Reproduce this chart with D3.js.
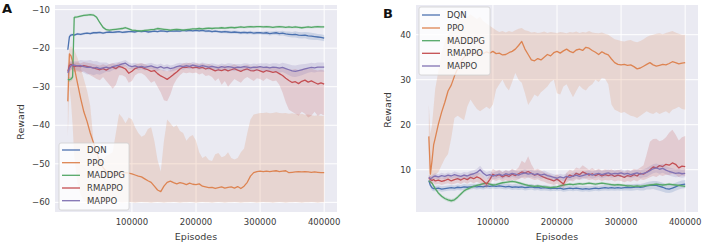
<!DOCTYPE html>
<html>
<head>
<meta charset="utf-8">
<script src="https://cdn.jsdelivr.net/npm/d3@7"></script>
<style>
  body { margin: 0; background: #fff; }
  svg { display: block; font-family: "DejaVu Sans", sans-serif; }
</style>
</head>
<body>
<div id="chart"></div>
<script>
// ---- data ----
const seriesNames = ["DQN", "PPO", "MADDPG", "RMAPPO", "MAPPO"];
const seriesColors = ["#4c72b0", "#dd8452", "#55a868", "#c44e52", "#8172b3"];

const episodes = [
  0, 2500, 5000, 7500, 10000, 15000, 20000, 25000, 30000, 35000,
  40000, 45000, 50000, 55000, 60000, 65000, 70000, 75000, 80000, 85000,
  90000, 95000, 100000, 105000, 110000, 115000, 120000, 125000, 130000, 135000,
  140000, 145000, 150000, 155000, 160000, 165000, 170000, 175000, 180000, 185000,
  190000, 195000, 200000, 205000, 210000, 215000, 220000, 225000, 230000, 235000,
  240000, 245000, 250000, 255000, 260000, 265000, 270000, 275000, 280000, 285000,
  290000, 295000, 300000, 305000, 310000, 315000, 320000, 325000, 330000, 335000,
  340000, 345000, 350000, 355000, 360000, 365000, 370000, 375000, 380000, 385000,
  390000, 395000, 400000
];
const xTicks = [100000, 200000, 300000, 400000];
const yTicksA = [-60, -50, -40, -30, -20, -10];
const yTicksB = [10, 20, 30, 40];

// Panel A
const dqnA = [
  -20.4, -17.0, -16.6, -16.5, -16.6, -16.3, -16.4, -16.2, -16.1, -16.2,
  -16.0, -16.0, -15.9, -16.1, -15.9, -15.8, -15.9, -15.8, -15.7, -15.9,
  -15.8, -15.7, -15.7, -15.8, -15.6, -15.7, -15.6, -15.8, -15.7, -15.6,
  -15.7, -15.5, -15.6, -15.7, -15.5, -15.6, -15.5, -15.6, -15.4, -15.5,
  -15.4, -15.5, -15.4, -15.5, -15.4, -15.6, -15.5, -15.7, -15.6, -15.7,
  -15.8, -15.7, -15.8, -15.9, -15.8, -15.9, -16.0, -15.9, -16.0, -15.9,
  -16.1, -16.0, -16.0, -16.1, -16.0, -16.2, -16.1, -16.0, -16.2, -16.1,
  -16.3, -16.4, -16.5, -16.4, -16.6, -16.7, -16.6, -16.8, -16.9, -17.0,
  -17.1, -17.2, -17.4
];
const dqnASpread = [
  0.6, 0.5, 0.4, 0.3, 0.3, 0.3, 0.3, 0.3, 0.3, 0.3,
  0.3, 0.3, 0.3, 0.3, 0.3, 0.3, 0.3, 0.3, 0.3, 0.3,
  0.3, 0.3, 0.3, 0.3, 0.3, 0.3, 0.3, 0.3, 0.3, 0.3,
  0.3, 0.3, 0.3, 0.3, 0.3, 0.3, 0.3, 0.3, 0.3, 0.3,
  0.3, 0.3, 0.3, 0.3, 0.3, 0.35, 0.35, 0.35, 0.35, 0.35,
  0.35, 0.4, 0.4, 0.4, 0.4, 0.4, 0.4, 0.4, 0.4, 0.4,
  0.4, 0.4, 0.4, 0.4, 0.5, 0.5, 0.5, 0.5, 0.6, 0.6,
  0.6, 0.7, 0.7, 0.8, 0.8, 0.8, 0.8, 0.9, 0.9, 0.9,
  0.8, 0.8, 0.8
];
const ppoA = [
  -33.8, -21.5, -22.0, -23.5, -25.0, -29.0, -33.0, -36.5, -39.0, -42.0,
  -44.5, -47.0, -49.5, -51.0, -52.0, -52.5, -52.3, -52.6, -52.2, -52.5,
  -52.3, -52.4, -52.6, -52.9, -53.2, -53.4, -53.9, -54.4, -54.8, -55.8,
  -56.8, -57.2, -55.8, -54.8, -54.5, -54.9, -55.2, -54.9, -55.1, -55.4,
  -55.0, -55.3, -55.4, -55.2, -55.8, -56.0, -56.2, -56.1, -56.4, -56.2,
  -56.0, -56.3, -56.1, -56.0, -56.3, -55.9, -56.4, -55.8, -54.8, -53.2,
  -52.3, -52.0, -51.9, -52.0, -51.9, -52.0, -51.9, -51.8, -52.0, -51.9,
  -51.8, -52.3, -52.2, -52.1, -52.0, -52.1, -52.0, -52.1, -52.2, -52.1,
  -52.2, -52.3, -52.3
];
const ppoALow = [
  -43, -30, -34, -40, -48, -55, -58, -59.5, -60, -60,
  -60.1, -60, -59.9, -60, -60.1, -60, -60, -59.9, -60, -60.1,
  -60, -59.9, -60, -60.1, -60, -59.9, -60, -60, -60.1, -60,
  -59.9, -60, -60.1, -60, -60, -59.9, -60, -60.1, -60, -60,
  -59.9, -60, -60.1, -60, -59.9, -60, -60, -60.1, -60, -59.9,
  -60, -60.1, -60, -60, -59.9, -60, -60.1, -60, -60, -59.9,
  -60, -60.1, -60, -59.9, -60, -60, -60.1, -60, -59.9, -60,
  -60.1, -60, -60, -59.9, -60, -60.1, -60, -60, -59.9, -60,
  -60.1, -60, -60
];
const ppoAHigh = [
  -24, -20, -19.5, -20, -20.5, -22.5, -25, -28, -31, -35,
  -44, -47, -48, -49, -48, -47.5, -47, -42, -37, -38,
  -39.5, -38, -38.5, -40.5, -42, -43, -42.5, -41, -40.5, -44,
  -49, -52, -44, -38.5, -39.5, -40.5, -40, -41.5, -42, -44,
  -43, -42.5, -44, -47, -48.5, -48, -49, -49.3, -47.5, -47.2,
  -48.3, -48, -47, -48.5, -48.9, -48.5, -47, -46, -42, -38.5,
  -37.2, -37, -36.8, -36.8, -36.7, -36.9, -36.8, -36.6, -36.8, -36.9,
  -36.8, -37.0, -36.9, -37.1, -37.2, -37.0, -37.3, -37.2, -37.4, -37.5,
  -37.4, -37.5, -37.6
];
const maddpgA = [
  -28.1, -28.2, -28.0, -27.5, -12.0, -11.9, -11.7, -11.5, -11.4, -11.3,
  -11.4, -12.0, -13.4, -14.6, -15.2, -15.3, -15.2, -15.1, -15.0, -14.9,
  -14.7, -15.0, -15.3, -15.4, -15.5, -15.5, -15.4, -15.3, -15.2, -15.1,
  -14.9, -15.0, -15.1, -15.2, -15.3, -15.2, -15.1, -15.2, -15.3, -15.2,
  -15.1, -15.0, -15.0, -14.9, -15.0, -14.9, -14.8, -14.9, -14.8, -14.8,
  -14.7, -14.8, -14.7, -14.6, -14.7, -14.6, -14.5, -14.6, -14.5, -14.4,
  -14.5, -14.4, -14.4, -14.5, -14.4, -14.5, -14.6, -14.5, -14.4, -14.5,
  -14.6, -14.5, -14.6, -14.5, -14.6, -14.7, -14.6, -14.5, -14.6, -14.5,
  -14.4, -14.5, -14.5
];
const maddpgASpread = [
  0.6, 0.6, 0.6, 0.6, 0.4, 0.3, 0.3, 0.3, 0.3, 0.3,
  0.3, 0.3, 0.3, 0.3, 0.3, 0.3, 0.3, 0.3, 0.3, 0.3,
  0.3, 0.3, 0.3, 0.3, 0.3, 0.3, 0.3, 0.3, 0.3, 0.3,
  0.3, 0.3, 0.3, 0.3, 0.3, 0.3, 0.3, 0.3, 0.3, 0.3,
  0.3, 0.3, 0.3, 0.3, 0.3, 0.3, 0.3, 0.3, 0.3, 0.3,
  0.3, 0.3, 0.3, 0.3, 0.3, 0.3, 0.3, 0.3, 0.3, 0.3,
  0.3, 0.3, 0.3, 0.3, 0.3, 0.3, 0.3, 0.3, 0.3, 0.3,
  0.3, 0.3, 0.3, 0.3, 0.3, 0.3, 0.3, 0.3, 0.3, 0.3,
  0.3, 0.3, 0.3
];
const rmappoA = [
  -26.0, -24.5, -24.2, -24.5, -24.8, -24.6, -24.8, -24.5, -24.7, -24.9,
  -25.1, -25.4, -25.6, -25.3, -25.7, -25.2, -24.9, -25.3, -24.7, -25.0,
  -25.4, -26.5, -26.0, -25.3, -25.0, -24.9, -25.3, -25.6, -26.0, -25.8,
  -26.6, -27.2, -27.6, -28.1, -27.5, -26.8, -26.2, -25.4, -24.9, -25.0,
  -24.8, -25.1, -24.9, -25.2, -25.0, -25.4, -25.1, -25.5, -25.9, -25.6,
  -25.8, -25.5, -25.9, -25.6, -25.3, -25.7, -26.0, -25.6, -25.4, -25.8,
  -25.9, -25.6, -25.9, -26.2, -25.8, -26.0, -26.3, -26.1, -26.6, -27.1,
  -27.8, -28.4, -28.9, -28.7, -29.2, -28.6, -28.3, -28.8, -28.5, -28.9,
  -29.3, -29.0, -29.3
];
const rmappoALow = [
  -27.5, -26, -25.5, -25.8, -26.2, -26, -26.3, -26, -26.5, -27,
  -27.5, -28, -28.3, -27.5, -28.5, -29.5, -30.5, -29.5, -27, -27,
  -27.5, -29, -28.5, -27, -26.5, -26.5, -27, -28, -29, -28.5,
  -30, -31.5, -33.5, -33.8, -32, -29.5, -28, -27, -26.3, -26.5,
  -26.3, -26.5, -26.3, -26.8, -26.5, -27.2, -27, -27.5, -28.5, -27.8,
  -29.5, -28.5, -30, -29, -28, -28.5, -29, -28, -27.5, -28,
  -28.5, -27.8, -28, -28.5, -27.8, -28.2, -28.6, -28.4, -29.5, -31.5,
  -34, -36, -36.5, -37, -37.5, -36.5, -37, -38, -37.5, -36.5,
  -37.5, -37, -37.5
];
const rmappoAHigh = [
  -24.5, -23.5, -23.3, -23.5, -23.8, -23.7, -23.9, -23.6, -23.8, -23.9,
  -24.1, -24.3, -24.5, -24.2, -24.5, -24.1, -23.9, -24.2, -23.7, -24.0,
  -24.3, -25.2, -24.8, -24.3, -24.0, -23.9, -24.2, -24.5, -24.8, -24.6,
  -25.2, -25.6, -25.8, -26.0, -25.7, -25.2, -24.9, -24.4, -23.9, -24.0,
  -23.8, -24.1, -23.9, -24.2, -24.0, -24.3, -24.1, -24.4, -24.7, -24.5,
  -24.6, -24.4, -24.7, -24.5, -24.2, -24.6, -24.8, -24.5, -24.3, -24.7,
  -24.8, -24.5, -24.8, -25.0, -24.7, -24.9, -25.1, -24.9, -25.0, -25.1,
  -25.3, -25.5, -25.6, -25.4, -25.7, -25.4, -25.2, -25.5, -25.3, -25.6,
  -25.8, -25.6, -25.8
];
const mappoA = [
  -26.4, -25.2, -24.6, -24.3, -24.4, -24.6, -24.5, -24.8, -25.0, -24.9,
  -25.2, -25.0, -25.3, -25.1, -24.9, -25.2, -24.8, -24.6, -24.4, -24.1,
  -23.9, -24.5, -24.8, -24.6, -24.9, -24.7, -25.0, -24.8, -24.6, -24.9,
  -25.1, -24.8, -25.2, -25.0, -25.3, -25.1, -24.8, -24.6, -24.8, -24.5,
  -24.7, -24.4, -24.6, -24.8, -24.5, -24.7, -24.9, -24.7, -24.9, -25.1,
  -24.8, -25.0, -24.8, -24.9, -25.1, -24.9, -25.0, -24.8, -24.9, -25.1,
  -24.9, -25.0, -24.8, -25.0, -24.9, -25.1, -24.9, -25.0, -25.2, -25.0,
  -25.3, -25.6, -25.9, -26.0, -25.8, -25.6, -25.4, -25.2, -25.0, -25.1,
  -24.9, -24.9, -24.9
];
const mappoASpread = [
  1.5, 1.2, 1.0, 1.0, 1.0, 1.2, 1.4, 1.6, 1.8, 1.8,
  1.8, 1.7, 1.6, 1.4, 1.2, 1.0, 0.9, 0.9, 0.8, 0.8,
  0.8, 0.8, 0.8, 0.8, 0.8, 0.8, 0.8, 0.8, 0.8, 0.8,
  0.8, 0.8, 0.8, 0.8, 0.8, 0.8, 0.8, 0.8, 0.8, 0.8,
  0.8, 0.8, 0.8, 0.8, 0.8, 0.8, 0.8, 0.8, 0.8, 0.8,
  0.8, 0.8, 0.9, 0.9, 0.9, 0.8, 0.8, 0.9, 0.9, 0.9,
  0.9, 0.9, 0.9, 1.0, 1.0, 1.0, 1.0, 1.1, 1.1, 1.2,
  1.3, 1.4, 1.5, 1.5, 1.5, 1.4, 1.3, 1.2, 1.2, 1.2,
  1.2, 1.2, 1.2
];

// Panel B
const dqnB = [
  7.6, 6.5, 6.0, 5.8, 5.8, 5.9, 5.7, 5.8, 5.9, 6.0,
  5.9, 6.1, 6.0, 6.2, 6.1, 6.2, 6.3, 6.2, 6.3, 6.2,
  6.4, 6.3, 6.4, 6.3, 6.4, 6.3, 6.2, 6.3, 6.1, 6.2,
  6.1, 6.2, 6.0, 6.1, 6.2, 6.0, 6.1, 5.9, 6.0, 5.9,
  5.8, 5.9, 5.8, 5.9, 5.7, 5.8, 5.9, 5.8, 5.9, 5.8,
  5.7, 5.8, 5.7, 5.8, 5.9, 5.8, 5.9, 6.0, 5.9, 6.0,
  5.9, 6.0, 5.9, 6.0, 6.1, 6.0, 6.1, 6.2, 6.1, 6.2,
  6.4, 6.5, 6.6, 6.5, 6.3, 6.1, 5.8, 5.7, 5.9, 6.2,
  6.5, 6.7, 6.8
];
const dqnBSpread = [
  0.3, 0.5, 0.6, 0.6, 0.6, 0.6, 0.6, 0.6, 0.6, 0.6,
  0.6, 0.6, 0.6, 0.6, 0.6, 0.6, 0.6, 0.6, 0.6, 0.6,
  0.6, 0.6, 0.6, 0.6, 0.6, 0.6, 0.6, 0.6, 0.6, 0.6,
  0.6, 0.6, 0.6, 0.6, 0.6, 0.6, 0.6, 0.6, 0.6, 0.6,
  0.6, 0.6, 0.6, 0.6, 0.6, 0.6, 0.6, 0.6, 0.6, 0.6,
  0.6, 0.6, 0.6, 0.6, 0.6, 0.6, 0.6, 0.6, 0.6, 0.6,
  0.6, 0.6, 0.6, 0.6, 0.7, 0.7, 0.7, 0.7, 0.7, 0.8,
  0.8, 0.9, 0.9, 1.0, 1.0, 1.0, 0.9, 0.9, 0.9, 0.9,
  0.9, 0.9, 0.9
];
const ppoB = [
  17.4, 9.0, 12.0, 15.5, 17.0, 20.2, 22.8, 25.0, 27.5, 28.8,
  30.8, 32.5, 34.0, 35.0, 35.5, 35.8, 36.0, 35.6, 36.1, 35.8,
  36.2, 35.9, 36.3, 35.8, 35.9, 35.5, 35.6, 36.0, 36.3, 36.8,
  37.6, 38.5, 36.8, 35.6, 34.4, 34.2, 34.7, 34.4, 35.0, 35.6,
  35.3, 36.0, 36.3, 35.9, 36.4, 36.8, 36.3, 36.0, 36.6, 36.8,
  36.5, 37.2, 37.0, 36.5, 36.1, 35.6, 36.2, 35.8, 35.5, 34.6,
  33.8, 33.4, 33.3, 33.4, 33.2, 33.3, 32.9, 32.4, 32.6, 33.0,
  33.4, 33.8, 33.3, 33.0, 33.2, 33.4, 33.3, 33.6, 34.0, 33.8,
  33.5, 33.7, 33.8
];
const ppoBLow = [
  10, 7, 7.5, 8.5, 8.8, 9.5, 11, 12.5, 13.5, 17,
  21.5, 22, 21.5, 21, 24, 25.6, 24.5, 23.5, 23, 23.5,
  24, 23.5, 24.5, 27.8, 29, 30, 28.5, 27.6, 29.5, 31.5,
  30, 29.3, 27, 24.4, 25.5, 26.7, 26.2, 27.2, 27.8, 28.5,
  29.5, 30, 27, 26.7, 28.5, 29, 27.5, 26.1, 27.5, 28.7,
  28, 27.6, 28.5, 29, 30, 29.5, 30.4, 30.2, 29, 24.5,
  23.3, 23, 22.6, 22.8, 22.4, 22, 21.8, 21.5, 22, 22.5,
  23, 22.6, 22.4, 22.8, 22.4, 22.7, 23, 22.5, 23.3, 23.6,
  24, 23.5, 23.3
];
const ppoBHigh = [
  24.5, 18, 20, 24, 28, 32, 36, 38.5, 40, 41,
  42, 43, 43.5, 43.5, 44, 44.5, 44, 43.5, 44, 43,
  42.5, 42, 41.5, 41, 40.6, 40.8, 40.5, 40.8, 40.6, 41,
  41.3, 41.5, 41, 40.8, 40.5, 40.6, 40.4, 40.5, 40.7, 40.4,
  40.6, 40.5, 40.4, 40.6, 40.5, 40.3, 40.6, 40.5, 40.7, 40.4,
  40.6, 40.5, 40.8, 40.5, 40.4, 40.3, 40.5, 40.2, 40, 39.5,
  39, 38.8, 38.6, 38.5, 38.7, 38.8, 38.5, 38.3, 38.6, 39,
  39.5, 39.8, 40, 40.2, 40.3, 40.1, 40.4, 40.6, 40.8, 40.5,
  40.2, 40, 40
];
const maddpgB = [
  7.5, 7.3, 7.0, 6.4, 5.8, 4.8, 4.1, 3.6, 3.3, 3.1,
  3.3, 3.9, 4.6, 5.3, 5.7, 6.0, 6.3, 6.5, 6.7, 6.9,
  7.0, 6.8, 6.6, 6.7, 6.9, 7.1, 7.2, 7.3, 7.4, 7.3,
  7.1, 6.9, 6.7, 6.5, 6.4, 6.3, 6.4, 6.3, 6.2, 6.1,
  6.0, 6.1, 6.2, 6.4, 6.6, 6.7, 6.8, 6.7, 6.8, 6.9,
  6.8, 6.9, 7.0, 6.9, 6.8, 6.9, 7.0, 6.9, 6.8, 6.7,
  6.6, 6.7, 6.6, 6.5, 6.4, 6.4, 6.3, 6.4, 6.3, 6.4,
  6.5, 6.6, 6.7, 6.8, 6.7, 6.6, 6.7, 6.8, 6.7, 6.6,
  6.5, 6.4, 6.3
];
const maddpgBSpread = [
  0.3, 0.3, 0.3, 0.3, 0.3, 0.4, 0.4, 0.4, 0.4, 0.4,
  0.4, 0.4, 0.4, 0.4, 0.4, 0.3, 0.3, 0.3, 0.3, 0.3,
  0.3, 0.3, 0.3, 0.3, 0.3, 0.3, 0.3, 0.3, 0.3, 0.3,
  0.3, 0.3, 0.3, 0.3, 0.3, 0.3, 0.3, 0.3, 0.3, 0.3,
  0.3, 0.3, 0.3, 0.3, 0.3, 0.3, 0.3, 0.3, 0.3, 0.3,
  0.3, 0.3, 0.3, 0.3, 0.3, 0.3, 0.3, 0.3, 0.3, 0.3,
  0.3, 0.3, 0.3, 0.3, 0.3, 0.3, 0.3, 0.3, 0.3, 0.3,
  0.3, 0.3, 0.3, 0.3, 0.3, 0.3, 0.3, 0.3, 0.3, 0.3,
  0.3, 0.3, 0.3
];
const rmappoB = [
  8.2, 7.8, 7.6, 7.8, 7.5, 7.7, 7.4, 7.6, 7.9, 7.5,
  7.8, 8.0, 7.7, 8.1, 7.8, 8.3, 8.0, 8.4, 8.1, 7.5,
  6.8, 7.8, 9.0, 8.6, 8.9, 8.4, 8.8, 8.5, 9.0, 8.7,
  9.1, 9.5, 9.3, 9.6, 9.2, 8.8, 9.0, 8.6, 8.3, 8.0,
  7.8, 7.5, 7.9, 7.4, 6.8, 8.2, 8.8, 8.5, 9.2, 8.9,
  9.5, 9.2, 8.8, 9.1, 8.7, 9.0, 8.6, 8.9, 8.7, 8.9,
  8.5, 8.8, 8.6, 8.3, 8.7, 8.5, 8.9, 8.6, 9.2, 9.0,
  9.5, 10.0, 10.6, 10.4, 10.9, 10.7, 11.2, 11.0, 11.5, 11.2,
  10.4, 10.8, 10.7
];
const rmappoBLow = [
  7.6, 7.0, 6.8, 7.0, 6.7, 6.9, 6.6, 6.8, 7.0, 6.7,
  6.9, 7.1, 6.8, 7.2, 6.9, 7.3, 7.0, 7.3, 7.0, 6.5,
  5.9, 6.8, 7.8, 7.5, 7.8, 7.4, 7.7, 7.4, 7.8, 7.6,
  7.9, 8.2, 8.0, 8.3, 8.0, 7.7, 7.9, 7.5, 7.3, 7.0,
  6.8, 6.6, 6.9, 6.4, 5.9, 7.1, 7.6, 7.4, 7.9, 7.7,
  8.2, 8.0, 7.7, 7.9, 7.6, 7.8, 7.5, 7.7, 7.6, 7.7,
  7.4, 7.6, 7.5, 7.2, 7.5, 7.3, 7.7, 7.4, 7.9, 7.7,
  8.0, 8.3, 8.6, 8.4, 8.8, 8.6, 8.9, 8.8, 9.1, 8.9,
  8.4, 8.7, 8.6
];
const rmappoBHigh = [
  8.8, 8.6, 8.4, 8.6, 8.3, 8.5, 8.2, 8.4, 8.8, 8.3,
  8.7, 8.9, 8.6, 9.0, 8.7, 9.3, 9.0, 9.5, 9.2, 8.5,
  7.8, 8.8, 10.2, 9.7, 10.0, 9.5, 9.9, 9.6, 10.2, 9.8,
  10.5, 12.0, 11.5, 13.0, 11.2, 10.0, 10.2, 9.8, 9.4, 9.1,
  8.9, 8.5, 9.0, 8.5, 7.8, 9.4, 10.0, 9.7, 10.5, 10.2,
  11.0, 10.5, 10.0, 10.4, 9.9, 10.2, 9.8, 10.1, 9.9, 10.1,
  9.7, 10.0, 9.8, 9.5, 9.9, 9.7, 10.2, 10.0, 10.5, 11.0,
  13.5, 16.2, 16.8, 16.9, 16.3, 16.6, 17.2, 18.2, 18.9, 17.8,
  16.5, 17.2, 17.5
];
const mappoB = [
  8.3, 8.0, 8.2, 8.5, 8.6, 8.4, 8.7, 8.5, 8.8, 8.6,
  8.9, 8.7, 8.5, 8.8, 8.6, 8.9, 9.1, 9.4, 10.0, 9.2,
  8.7, 8.9, 8.6, 8.8, 9.0, 8.7, 9.1, 8.9, 9.2, 9.0,
  8.8, 9.1, 9.3, 9.0, 9.2, 8.9, 9.1, 8.8, 9.0, 8.7,
  8.5, 8.3, 8.1, 8.4, 8.2, 8.5, 8.3, 8.6, 8.8, 8.5,
  8.7, 8.9, 9.1, 8.8, 9.0, 9.2, 8.9, 9.1, 9.3, 9.0,
  9.2, 9.1, 9.3, 9.0, 9.2, 8.9, 9.1, 9.3, 9.0, 9.2,
  9.4, 9.8, 10.2, 10.4, 10.1, 10.3, 9.9, 9.6, 9.4, 9.2,
  9.3, 9.1, 9.2
];
const mappoBSpread = [
  0.4, 0.6, 0.6, 0.6, 0.6, 0.6, 0.6, 0.6, 0.6, 0.6,
  0.7, 0.7, 0.7, 0.7, 0.8, 0.8, 0.8, 0.8, 0.9, 0.8,
  0.8, 0.8, 0.8, 0.8, 0.8, 0.8, 0.8, 0.8, 0.8, 0.8,
  0.8, 0.8, 0.8, 0.8, 0.8, 0.8, 0.8, 0.8, 0.8, 0.8,
  0.7, 0.7, 0.7, 0.7, 0.7, 0.7, 0.7, 0.7, 0.7, 0.7,
  0.8, 0.8, 0.8, 0.8, 0.8, 0.8, 0.8, 0.8, 0.8, 0.8,
  0.8, 0.8, 0.8, 0.8, 0.8, 0.8, 0.8, 0.8, 0.9, 0.9,
  1.0, 1.0, 1.0, 1.0, 1.0, 1.0, 0.9, 0.9, 0.9, 0.9,
  0.9, 0.9, 0.9
];

// ---- build series ----
function sym(mean, spread) {
  return { mean, low: mean.map((m, i) => m - spread[i]), high: mean.map((m, i) => m + spread[i]) };
}

const panels = [
  {
    letter: "A", left: 55, right: 337, yDomain: [-62.5, -8.8], yTicks: yTicksA,
    letterPos: [2, 13], ylabelPos: [24, 122],
    legend: { x: 59, y: 143, w: 70, h: 67, line: [62, 80], text: 87, rows: [150, 162.7, 175.3, 188, 200.7] },
    series: [
      sym(dqnA, dqnASpread),
      { mean: ppoA, low: ppoALow, high: ppoAHigh },
      sym(maddpgA, maddpgASpread),
      { mean: rmappoA, low: rmappoALow, high: rmappoAHigh },
      sym(mappoA, mappoASpread)
    ]
  },
  {
    letter: "B", left: 416, right: 698, yDomain: [0.6, 46.6], yTicks: yTicksB,
    letterPos: [383, 18], ylabelPos: [391, 110],
    legend: { x: 419, y: 7, w: 71, h: 68, line: [422, 440], text: 447, rows: [15, 28, 40.7, 53.3, 66] },
    series: [
      sym(dqnB, dqnBSpread),
      { mean: ppoB, low: ppoBLow, high: ppoBHigh },
      sym(maddpgB, maddpgBSpread),
      { mean: rmappoB, low: rmappoBLow, high: rmappoBHigh },
      sym(mappoB, mappoBSpread)
    ]
  }
];

panels.forEach(p => p.series.forEach((s, i) => {
  [s.mean, s.low, s.high].forEach(a => {
    if (a.length !== episodes.length) throw new Error(p.letter + " " + seriesNames[i] + " length " + a.length);
  });
}));

// ---- draw ----
const W = 708, H = 245;
const plotTop = 5, plotBottom = 212;
const textColor = "#3a3a3a";
const svg = d3.select("#chart").append("svg").attr("width", W).attr("height", H);

panels.forEach(p => {
  const x = d3.scaleLinear().domain([-20000, 420000]).range([p.left, p.right]);
  const y = d3.scaleLinear().domain(p.yDomain).range([plotBottom, plotTop]);
  const g = svg.append("g");

  g.append("rect")
    .attr("x", p.left).attr("y", plotTop)
    .attr("width", p.right - p.left).attr("height", plotBottom - plotTop)
    .attr("fill", "#eaeaf2");

  // grid
  g.selectAll("line.gx").data(xTicks).enter().append("line")
    .attr("x1", d => x(d)).attr("x2", d => x(d))
    .attr("y1", plotTop).attr("y2", plotBottom)
    .attr("stroke", "#fff").attr("stroke-width", 1);
  g.selectAll("line.gy").data(p.yTicks).enter().append("line")
    .attr("x1", p.left).attr("x2", p.right)
    .attr("y1", d => y(d)).attr("y2", d => y(d))
    .attr("stroke", "#fff").attr("stroke-width", 1);

  // series
  p.series.forEach((s, i) => {
    const pts = episodes.map((e, j) => ({ e, m: s.mean[j], lo: s.low[j], hi: s.high[j] }));
    g.append("path").datum(pts)
      .attr("fill", seriesColors[i]).attr("fill-opacity", 0.2)
      .attr("d", d3.area().x(d => x(d.e)).y0(d => y(d.lo)).y1(d => y(d.hi)));
    g.append("path").datum(pts)
      .attr("fill", "none").attr("stroke", seriesColors[i]).attr("stroke-width", 1.3)
      .attr("stroke-linejoin", "round")
      .attr("d", d3.line().x(d => x(d.e)).y(d => y(d.m)));
  });

  // tick labels
  g.selectAll("text.xt").data(xTicks).enter().append("text")
    .attr("x", d => x(d)).attr("y", 225)
    .attr("text-anchor", "middle").attr("font-size", "8.5px").attr("fill", textColor)
    .text(d => d);
  g.selectAll("text.yt").data(p.yTicks).enter().append("text")
    .attr("x", p.left - 5).attr("y", d => y(d))
    .attr("text-anchor", "end").attr("dominant-baseline", "central")
    .attr("font-size", "8.5px").attr("fill", textColor)
    .text(d => d3.format("d")(d));

  // axis titles
  g.append("text")
    .attr("x", (p.left + p.right) / 2).attr("y", 240)
    .attr("text-anchor", "middle").attr("font-size", "9.5px").attr("fill", textColor)
    .text("Episodes");
  g.append("text")
    .attr("transform", `translate(${p.ylabelPos[0]},${p.ylabelPos[1]}) rotate(-90)`)
    .attr("text-anchor", "middle").attr("font-size", "9.5px").attr("fill", textColor)
    .text("Reward");

  // panel letter
  g.append("text")
    .attr("x", p.letterPos[0]).attr("y", p.letterPos[1])
    .attr("font-size", "13px").attr("font-weight", "bold").attr("fill", "#111")
    .text(p.letter);

  // legend
  const L = p.legend;
  g.append("rect")
    .attr("x", L.x).attr("y", L.y).attr("width", L.w).attr("height", L.h)
    .attr("rx", 2).attr("fill", "#fff").attr("fill-opacity", 0.8)
    .attr("stroke", "#d0d0d0").attr("stroke-width", 0.8);
  seriesNames.forEach((name, i) => {
    g.append("line")
      .attr("x1", L.line[0]).attr("x2", L.line[1])
      .attr("y1", L.rows[i]).attr("y2", L.rows[i])
      .attr("stroke", seriesColors[i]).attr("stroke-width", 1.3);
    g.append("text")
      .attr("x", L.text).attr("y", L.rows[i])
      .attr("dominant-baseline", "central")
      .attr("font-size", "8.5px").attr("fill", textColor)
      .text(name);
  });
});
</script>
</body>
</html>
